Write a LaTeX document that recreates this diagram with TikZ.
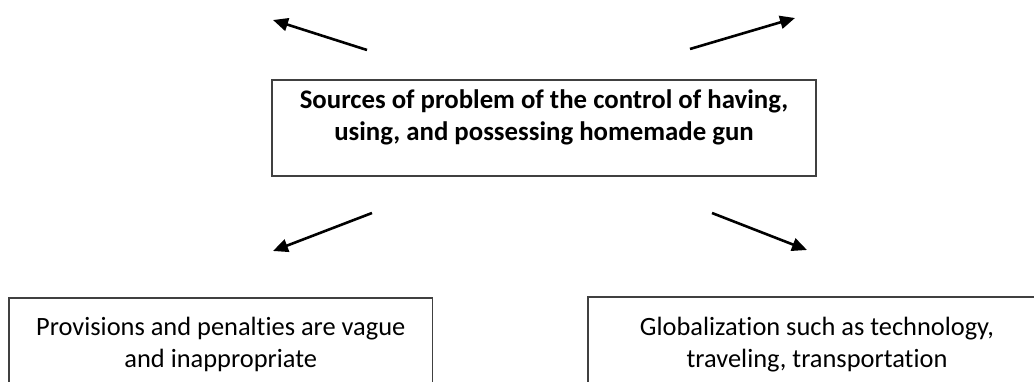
\documentclass[tikz,border=0pt]{standalone}
\usepackage{fontspec}
\setmainfont{Carlito}[Ligatures=NoCommon]
\usetikzlibrary{arrows.meta,fit}
\newcommand\linestrut{\rule[-7pt]{0pt}{27pt}}
\newcommand\bodyfont{\fontsize{26.4}{32.3}\selectfont\lineskiplimit-20pt\relax}
\newcommand\headfont{\fontsize{26.8}{32.3}\selectfont\lineskiplimit-20pt\relax\bfseries}
\begin{document}
\begin{tikzpicture}[x=1pt,y=1pt,
  txt/.style={align=center, inner sep=0pt, font=\bodyfont},
  boldtxt/.style={align=center, inner sep=0pt, font=\headfont},
  boxline/.style={draw=black!75, line width=1.2pt, inner sep=0pt},
  arr/.style={line width=2.6pt, -{Triangle[length=15pt,width=13pt]}}]
\useasboundingbox (0,0) rectangle (1034,381);
\clip (0,0) rectangle (1034,381);
% texts
\node[boldtxt, anchor=north] (t0) at (544,293) {\linestrut Sources of problem of the control of having,\\\linestrut using, and possessing homemade gun};
\node[txt, anchor=north west] (t1) at (36,66) {\linestrut Provisions and penalties are vague\\\linestrut and inappropriate};
\node[txt, anchor=north] (t2) at (817,66) {\linestrut Globalization such as technology,\\\linestrut traveling, transportation};
% boxes
\coordinate (c0a) at (272,301);
\coordinate (c0b) at (816,205);
\node[boxline, fit={(c0a) (c0b)}] (b0) {};
\coordinate (c1a) at ([xshift=-27pt]t1.west);
\coordinate (c1b) at ([xshift=27pt]t1.east);
\coordinate (y1t) at (0,83);
\coordinate (y1b) at (0,-20);
\node[boxline, fit={(c1a |- y1t) (c1b |- y1b)}] (b1) {};
\coordinate (c2a) at (588,84);
\coordinate (c2b) at (1046,-20);
\node[boxline, fit={(c2a) (c2b)}] (b2) {};
% arrows
\coordinate (a1s) at (367,331); \coordinate (a1e) at (273,361);
\coordinate (a2s) at (690,332); \coordinate (a2e) at (795,363);
\coordinate (a3s) at (372,168); \coordinate (a3e) at (273,130);
\coordinate (a4s) at (712,168); \coordinate (a4e) at (807,131);
\draw[arr] (a1s) -- (a1e);
\draw[arr] (a2s) -- (a2e);
\draw[arr] (a3s) -- (a3e);
\draw[arr] (a4s) -- (a4e);
\end{tikzpicture}
\end{document}
